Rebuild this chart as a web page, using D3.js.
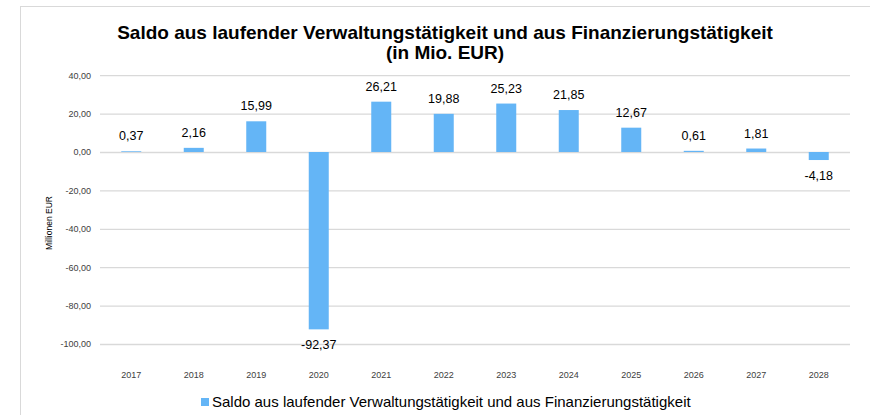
<!DOCTYPE html>
<html>
<head>
<meta charset="utf-8">
<script src="https://cdn.jsdelivr.net/npm/d3@7"></script>
<style>
  html, body { margin: 0; padding: 0; background: #fff; }
  svg { display: block; font-family: "Liberation Sans", Arial, sans-serif; }
</style>
</head>
<body>
<svg id="chart" width="870" height="415"></svg>
<script>
// Jahre und Saldo (Mio. EUR)
const years = ["2017", "2018", "2019", "2020", "2021", "2022", "2023", "2024", "2025", "2026", "2027", "2028"];
const saldo = [0.37, 2.16, 15.99, -92.37, 26.21, 19.88, 25.23, 21.85, 12.67, 0.61, 1.81, -4.18];
const yTicks = [40, 20, 0, -20, -40, -60, -80, -100];
const titleLines = ["Saldo aus laufender Verwaltungstätigkeit und aus Finanzierungstätigkeit", "(in Mio. EUR)"];
const seriesName = "Saldo aus laufender Verwaltungstätigkeit und aus Finanzierungstätigkeit";
const yAxisTitle = "Millionen EUR";

const svg = d3.select("#chart");
const barColor = "#64b5f6";
const gridColor = "#d9d9d9";

// Deutsches Zahlenformat mit Komma und einfachem Bindestrich als Minus
const de = d3.formatLocale({ decimal: ",", thousands: ".", grouping: [3], currency: ["", " €"], minus: "-" });
const fmt = de.format(".2f");

// Rahmen der Diagrammfläche
svg.append("rect")
  .attr("x", 20.5).attr("y", 6.5)
  .attr("width", 900).attr("height", 450)
  .attr("fill", "#fff").attr("stroke", gridColor).attr("stroke-width", 1);

const x = d3.scaleBand()
  .domain(years)
  .range([100, 850])
  .paddingInner(0.68)
  .paddingOuter(0.34);

const y = d3.scaleLinear()
  .domain([-100, 40])
  .range([344, 75.2]);

// Gitternetzlinien und Beschriftung der Werteachse
const yAxis = d3.axisLeft(y)
  .tickValues(yTicks)
  .tickSize(-(850 - 100))
  .tickPadding(9)
  .tickFormat(fmt);

const gy = svg.append("g")
  .attr("transform", "translate(100,0)")
  .call(yAxis);
gy.select(".domain").remove();
gy.selectAll(".tick line").attr("stroke", gridColor).attr("stroke-width", 1.3);
gy.selectAll(".tick text")
  .attr("fill", "#404040")
  .attr("font-size", 9)
  .attr("font-family", "Liberation Sans, Arial, sans-serif");

// Kategorienachse (Jahre)
const xAxis = d3.axisBottom(x).tickSize(0).tickPadding(0);
const gx = svg.append("g")
  .attr("transform", "translate(0,372)")
  .call(xAxis);
gx.select(".domain").remove();
gx.selectAll(".tick text")
  .attr("fill", "#404040")
  .attr("font-size", 9)
  .attr("font-family", "Liberation Sans, Arial, sans-serif");

// Säulen
svg.append("g").selectAll("rect")
  .data(saldo)
  .join("rect")
  .attr("x", (d, i) => x(years[i]))
  .attr("width", x.bandwidth())
  .attr("y", d => y(Math.max(0, d)))
  .attr("height", d => Math.abs(y(d) - y(0)))
  .attr("fill", barColor);

// Datenbeschriftungen
svg.append("g").selectAll("text")
  .data(saldo)
  .join("text")
  .attr("x", (d, i) => x(years[i]) + x.bandwidth() / 2)
  .attr("y", d => d >= 0 ? y(d) - 11 : y(d) + 20)
  .attr("text-anchor", "middle")
  .attr("font-size", 12.5)
  .attr("fill", "#000")
  .text(fmt);

// Titel
svg.append("g").selectAll("text")
  .data(titleLines)
  .join("text")
  .attr("x", 445)
  .attr("y", (d, i) => 39 + i * 20)
  .attr("text-anchor", "middle")
  .attr("font-size", 19)
  .attr("font-weight", "bold")
  .attr("fill", "#000")
  .text(d => d);

// Achsentitel
svg.append("text")
  .attr("transform", "translate(52,223) rotate(-90)")
  .attr("text-anchor", "middle")
  .attr("font-size", 8.5)
  .attr("fill", "#000")
  .text(yAxisTitle);

// Legende
const legend = svg.append("g").attr("transform", "translate(201,398)");
legend.append("rect")
  .attr("x", 0).attr("y", 0)
  .attr("width", 8).attr("height", 8)
  .attr("fill", barColor);
legend.append("text")
  .attr("x", 11).attr("y", 8.5)
  .attr("font-size", 15)
  .attr("fill", "#000")
  .text(seriesName);
</script>
</body>
</html>
